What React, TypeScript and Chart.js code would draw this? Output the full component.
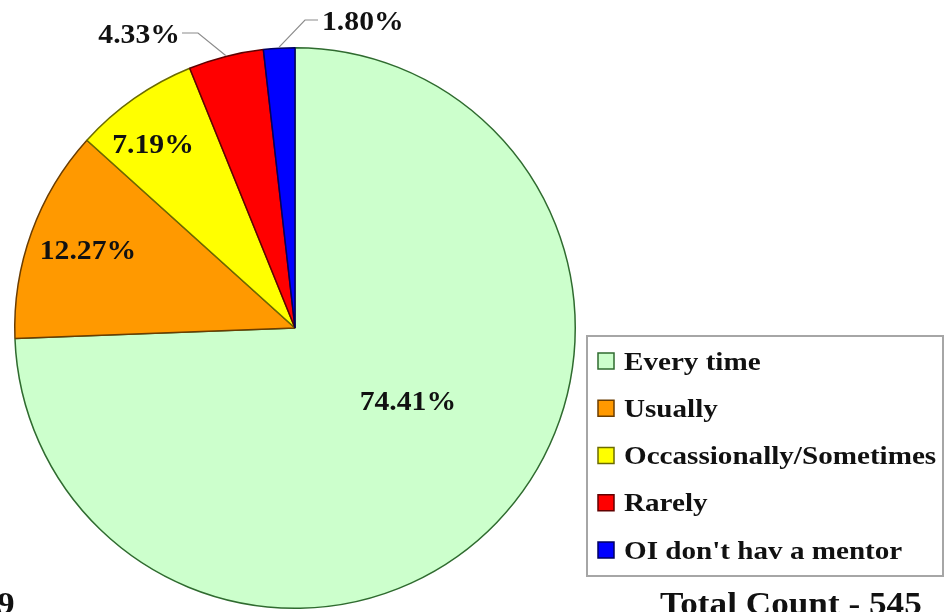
import React, { useEffect, useRef } from 'react';
import { Chart, registerables } from 'chart.js';

Chart.register(...registerables);

const categories = ['Every time', 'Usually', 'Occassionally/Sometimes', 'Rarely', "OI don't hav a mentor"];
const percentages = [74.41, 12.27, 7.19, 4.33, 1.8];
const percentLabels = ['74.41%', '12.27%', '7.19%', '4.33%', '1.80%'];
const totalLabel = 'Total Count - 545';
const cornerLabel = '9';

const fillColors = ['#ccffcc', '#ff9900', '#ffff00', '#ff0000', '#0000ff'];
const borderColors = ['#2f6b2f', '#6b3d00', '#6b6b00', '#600000', '#000060'];

type Placement =
  | { kind: 'inside'; angleShift: number; radiusFrac: number }
  | { kind: 'outside'; elbow: [number, number]; end: [number, number]; align: 'left' | 'right' };

const labelPlacement: Placement[] = [
  { kind: 'inside', angleShift: -11, radiusFrac: 0.48 },
  { kind: 'inside', angleShift: 0.8, radiusFrac: 0.79 },
  { kind: 'inside', angleShift: -2.6, radiusFrac: 0.83 },
  { kind: 'outside', elbow: [-97, -295], end: [-113, -295], align: 'right' },
  { kind: 'outside', elbow: [10, -308], end: [23, -308], align: 'left' },
];

const SERIF = '"Liberation Serif", "Times New Roman", serif';

function drawStretched(
  ctx: CanvasRenderingContext2D,
  text: string,
  x: number,
  baseline: number,
  size: number,
  sx: number,
  align: 'left' | 'center' | 'right',
  color = '#111111'
) {
  ctx.save();
  ctx.font = `bold ${size}px ${SERIF}`;
  ctx.fillStyle = color;
  ctx.textBaseline = 'alphabetic';
  ctx.textAlign = 'left';
  const w = ctx.measureText(text).width * sx;
  const left = align === 'center' ? x - w / 2 : align === 'right' ? x - w : x;
  ctx.translate(left, baseline);
  ctx.scale(sx, 1);
  ctx.fillText(text, 0, 0);
  ctx.restore();
}

const overlayPlugin = {
  id: 'overlay',
  afterDatasetsDraw(chart: any) {
    const ctx: CanvasRenderingContext2D = chart.ctx;
    const meta = chart.getDatasetMeta(0);
    meta.data.forEach((arc: any, i: number) => {
      const p = arc.getProps(['x', 'y', 'startAngle', 'endAngle', 'outerRadius'], true);
      const mid = (p.startAngle + p.endAngle) / 2;
      const pl = labelPlacement[i];
      if (pl.kind === 'inside') {
        const a = mid + (pl.angleShift * Math.PI) / 180;
        const lx = p.x + Math.cos(a) * p.outerRadius * pl.radiusFrac;
        const ly = p.y + Math.sin(a) * p.outerRadius * pl.radiusFrac;
        drawStretched(ctx, percentLabels[i], lx, ly + 9, 27, 1.1, 'center');
      } else {
        const sxp = p.x + Math.cos(mid) * (p.outerRadius + 1);
        const syp = p.y + Math.sin(mid) * (p.outerRadius + 1);
        const ex = p.x + pl.elbow[0];
        const ey = p.y + pl.elbow[1];
        const tx = p.x + pl.end[0];
        const ty = p.y + pl.end[1];
        ctx.save();
        ctx.strokeStyle = '#8c8c8c';
        ctx.lineWidth = 1.2;
        ctx.beginPath();
        ctx.moveTo(sxp, syp);
        ctx.lineTo(ex, ey);
        ctx.lineTo(tx, ty);
        ctx.stroke();
        ctx.restore();
        const textX = pl.align === 'right' ? tx - 2 : tx + 4;
        drawStretched(ctx, percentLabels[i], textX, ty + 10, 27, 1.1, pl.align);
      }
    });

    // Legend box
    ctx.save();
    ctx.fillStyle = '#ffffff';
    ctx.fillRect(586, 335, 358, 242);
    ctx.strokeStyle = '#a6a6a6';
    ctx.lineWidth = 2;
    ctx.strokeRect(587, 336, 356, 240);
    ctx.restore();
    categories.forEach((name, i) => {
      const cy = 361 + i * 47.25;
      ctx.save();
      ctx.fillStyle = fillColors[i];
      ctx.fillRect(598, cy - 8, 16, 16);
      ctx.strokeStyle = borderColors[i];
      ctx.lineWidth = 1.5;
      ctx.strokeRect(598, cy - 8, 16, 16);
      ctx.restore();
      drawStretched(ctx, name, 624, cy + 8.5, 26, 1.12, 'left');
    });

    drawStretched(ctx, totalLabel, 660, 614, 32, 1.1, 'left');
    drawStretched(ctx, cornerLabel, -3, 614, 32, 1.1, 'left');
  },
};

export default function App() {
  const ref = useRef<HTMLCanvasElement | null>(null);

  useEffect(() => {
    if (!ref.current) return;
    const chart = new Chart(ref.current, {
      type: 'pie',
      data: {
        labels: categories,
        datasets: [
          {
            data: percentages,
            backgroundColor: fillColors,
            borderColor: borderColors,
            borderWidth: 1.5,
          },
        ],
      },
      options: {
        responsive: false,
        animation: false,
        layout: { padding: { left: 14, top: 47, right: 374, bottom: 3 } },
        plugins: {
          legend: { display: false },
          tooltip: { enabled: false },
        },
      },
      plugins: [overlayPlugin],
    });
    return () => chart.destroy();
  }, []);

  return (
    <div style={{ position: 'fixed', left: 0, top: 0, width: 950, height: 612, background: '#ffffff', overflow: 'hidden' }}>
      <canvas ref={ref} width={950} height={612} style={{ display: 'block', width: 950, height: 612 }} />
    </div>
  );
}
